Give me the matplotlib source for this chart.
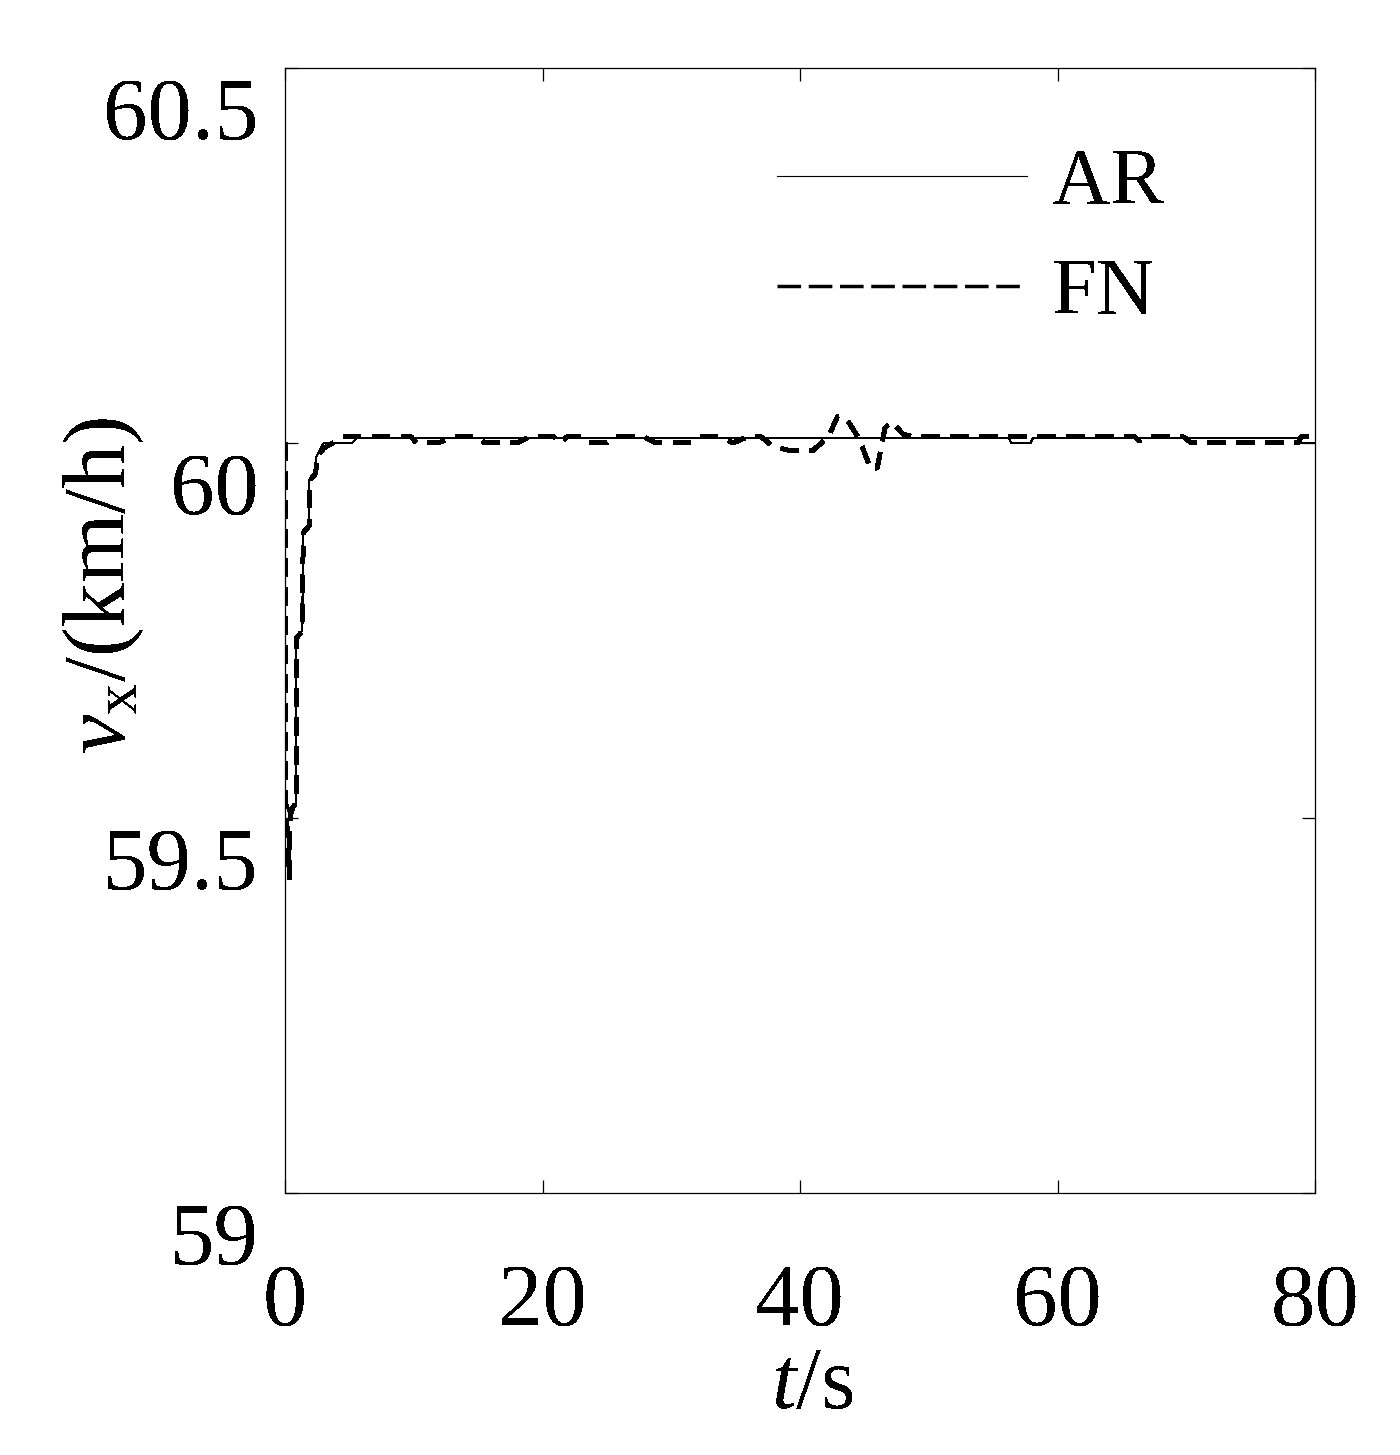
import matplotlib
matplotlib.use('Agg')
import matplotlib.pyplot as plt
from matplotlib.lines import Line2D
from matplotlib.transforms import ScaledTranslation

# AR response
t_ar = [0, 0.03, 0.35, 0.45, 0.85, 0.87, 1.35, 1.38, 1.85, 1.88, 2.35, 2.38,
        3.0, 5.2, 5.6, 56.2, 56.4, 57.9, 58.1, 78.7, 78.9, 80]
v_ar = [60.0, 59.535, 59.5, 59.5, 59.52, 59.74, 59.75, 59.88, 59.89, 59.95, 59.96, 59.98,
        60.0, 60.0, 60.007, 60.007, 60.0, 60.0, 60.007, 60.007, 60.0, 60.0]

# FN response
t_fn = [0, 0.03, 0.35, 0.4, 0.88, 0.9, 1.38, 1.4, 1.9, 1.92, 2.4, 2.42,
        3.0, 3.7, 4.5, 9.8, 10.2, 11.9, 13.0, 15.0, 15.5, 18.0, 19.0,
        20.9, 21.3, 21.9, 23.0, 23.6, 25.0, 25.6, 27.9, 28.8, 31.6, 32.2,
        33.8, 34.8, 35.9, 37.0, 37.9, 39.2, 41.0, 42.2, 42.9, 43.7, 44.6,
        45.5, 46.0, 46.6, 47.1, 48.0, 48.8, 66.0, 66.3, 67.2, 69.8, 70.4,
        78.7, 78.9, 80]
v_fn = [60.0, 59.53, 59.42, 59.51, 59.52, 59.74, 59.75, 59.88, 59.89, 59.95, 59.96, 59.98,
        59.993, 60.0, 60.008, 60.008, 60.0, 60.0, 60.008, 60.008, 60.0, 60.0, 60.008,
        60.008, 60.0, 60.008, 60.008, 60.0, 60.0, 60.008, 60.008, 60.0, 60.0, 60.008,
        60.008, 60.0, 60.008, 60.008, 59.995, 59.99, 59.99, 60.008, 60.035, 60.03, 60.005,
        59.965, 59.967, 60.02, 60.028, 60.012, 60.008, 60.008, 60.003, 60.008, 60.008, 60.0,
        60.0, 60.008, 60.008]

x_ticks = [0, 20, 40, 60, 80]
y_ticks = [59, 59.5, 60, 60.5]
y_ticklabels = ['59', '59.5', '60', '60.5']

plt.rcParams['font.family'] = ['Liberation Serif', 'DejaVu Serif']
plt.rcParams['mathtext.fontset'] = 'custom'
plt.rcParams['mathtext.rm'] = 'Liberation Serif'
plt.rcParams['mathtext.it'] = 'Liberation Serif:italic'
plt.rcParams['text.antialiased'] = False

fig = plt.figure(figsize=(14, 14.55), dpi=100)
ax = fig.add_axes([0.2036, 0.1801, 0.7357, 0.7732])

ax.plot(t_ar, v_ar, color='black', linewidth=0.8, antialiased=False)
ax.plot(t_fn, v_fn, color='black', linewidth=3.2, dashes=(3.9, 2.5), antialiased=False)

ax.set_xlim(0, 80)
ax.set_ylim(59, 60.5)
ax.set_xticks(x_ticks)
ax.set_yticks(y_ticks)
ax.set_yticklabels(y_ticklabels)

for s in ax.spines.values():
    s.set_linewidth(0.9)
ax.tick_params(direction='in', length=9.5, width=0.9, top=True, right=True,
               labelsize=64)
ax.tick_params(axis='x', pad=50)
ax.tick_params(axis='y', pad=19)

# labels in the original sit lower than their ticks
for lab in ax.get_yticklabels():
    lab.set_transform(lab.get_transform() + ScaledTranslation(0, -0.40, fig.dpi_scale_trans))

ax.set_xlabel(r'$t$/s', fontsize=64, va='center')
ax.xaxis.set_label_coords(0.5117, -0.172)
ax.set_ylabel(r'$v_{\mathrm{x}}$/(km/h)', fontsize=64, va='center')
ax.yaxis.set_label_coords(-0.176, 0.54)

handles = [Line2D([], [], color='black', linewidth=0.8, antialiased=False),
           Line2D([], [], color='black', linewidth=2.5, dashes=(6.8, 2.2), antialiased=False)]
ax.legend(handles, ['AR', 'FN'], loc='upper left', bbox_to_anchor=(0.4777, 0.929),
          frameon=False, fontsize=58, handlelength=3.1, handletextpad=0.31,
          labelspacing=0.45, borderpad=0, borderaxespad=0)

fig.savefig('out.png', dpi=100)
